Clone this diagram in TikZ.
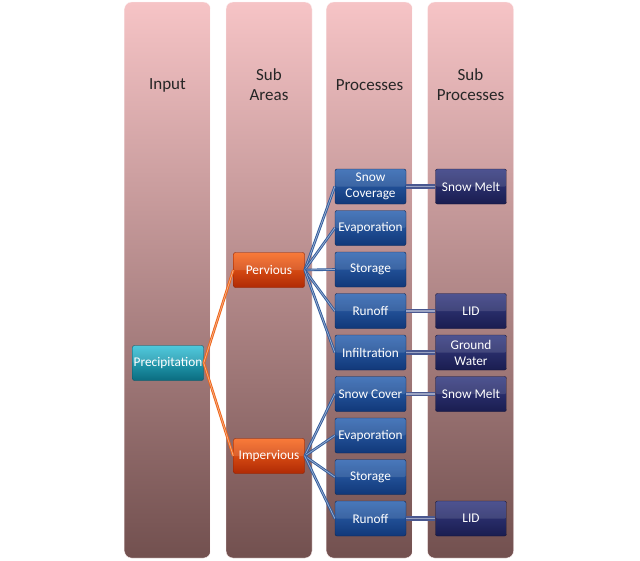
\documentclass[tikz,border=0pt]{standalone}
\usepackage{fontspec}
\setmainfont{Carlito}
\usepackage{tikz}
\usetikzlibrary{positioning}

\definecolor{coltop}{HTML}{F6C4C6}
\definecolor{colbot}{HTML}{72504F}
\definecolor{inptop}{HTML}{36C2D8}
\definecolor{inpbot}{HTML}{0B6C80}
\definecolor{areatop}{HTML}{F8681E}
\definecolor{areabot}{HTML}{B02A05}
\definecolor{proctop}{HTML}{3066B2}
\definecolor{procbot}{HTML}{113879}
\definecolor{subtop}{HTML}{363C82}
\definecolor{subbot}{HTML}{1A1D50}
\definecolor{linkorange}{HTML}{EE6418}
\definecolor{linkblue}{HTML}{2F5A9C}
\definecolor{linkgrey}{HTML}{4A5890}

\begin{document}
\begin{tikzpicture}[x=1pt, y=-1pt,
  column/.style={rounded corners=7pt, draw=white!80!coltop, top color=coltop, bottom color=colbot,
                 minimum width=86pt, minimum height=556pt, inner sep=0pt},
  head/.style={font=\fontsize{17}{20}\selectfont, text=black!85, align=center},
  box/.style={rounded corners=2pt, minimum width=71pt, minimum height=35pt, inner sep=1pt,
              align=center, text=white, font=\fontsize{13.3}{16}\selectfont,
              path picture={\fill[white, opacity=0.12] (path picture bounding box.north west)
                            rectangle (path picture bounding box.east);}},
  inbox/.style={box, draw=inpbot!80!black, top color=inptop, bottom color=inpbot},
  areabox/.style={box, draw=areabot!80!black, top color=areatop, bottom color=areabot},
  procbox/.style={box, draw=procbot!70!black, top color=proctop, bottom color=procbot},
  subbox/.style={box, draw=subbot!70!black, top color=subtop, bottom color=subbot},
  orangelink/.style={draw=linkorange, double=linkorange!55!white, double distance=0.8pt, line width=0.9pt},
  bluelink/.style={draw=linkblue, double=linkblue!50!white, double distance=0.8pt, line width=0.9pt},
  greylink/.style={draw=linkgrey, double=linkgrey!55!white, double distance=1.2pt, line width=1.5pt}]

\useasboundingbox (0,0) rectangle (640,560);

% columns
\node[column] (cin)   at (167.5,280) {};
\node[column] (carea) at (269,280)   {};
\node[column] (cproc) at (369.5,280) {};
\node[column] (csub)  at (470.5,280) {};

\node[head] (hin)   at (167.5,85) {Input};
\node[head] (harea) at (269,85)   {Sub\\Areas};
\node[head] (hproc) at (369.5,85) {Processes};
\node[head] (hsub)  at (470.5,85) {Sub\\Processes};

% input and sub areas
\node[inbox] (prec) at (168,363) {Precipitation};
\node[areabox] (perv) at (269,270) {Pervious};
\node[areabox] (imperv) at (269,456) {Impervious};

% processes
\node[procbox] (p1) at (370.5,186.5) {Snow\\Coverage};
\node[procbox] (p2) at (370.5,228)   {Evaporation};
\node[procbox] (p3) at (370.5,269.5) {Storage};
\node[procbox] (p4) at (370.5,311)   {Runoff};
\node[procbox] (p5) at (370.5,352.5) {Infiltration};
\node[procbox] (i1) at (370.5,394)   {Snow Cover};
\node[procbox] (i2) at (370.5,435.5) {Evaporation};
\node[procbox] (i3) at (370.5,477)   {Storage};
\node[procbox] (i4) at (370.5,518.5) {Runoff};

% sub processes
\node[subbox] (s1) at (471,186.5) {Snow Melt};
\node[subbox] (s2) at (471,311)   {LID};
\node[subbox] (s3) at (471,352.5) {Ground\\Water};
\node[subbox] (s4) at (471,394)   {Snow Melt};
\node[subbox] (s5) at (471,518.5) {LID};

\draw[orangelink] (prec.east) -- (perv.west);
\draw[orangelink] (prec.east) -- (imperv.west);

\draw[bluelink] (perv.east) -- (p1.west);
\draw[bluelink] (perv.east) -- (p2.west);
\draw[bluelink] (perv.east) -- (p3.west);
\draw[bluelink] (perv.east) -- (p4.west);
\draw[bluelink] (perv.east) -- (p5.west);
\draw[bluelink] (imperv.east) -- (i1.west);
\draw[bluelink] (imperv.east) -- (i2.west);
\draw[bluelink] (imperv.east) -- (i3.west);
\draw[bluelink] (imperv.east) -- (i4.west);

\draw[greylink] (p1.east) -- (s1.west);
\draw[greylink] (p4.east) -- (s2.west);
\draw[greylink] (p5.east) -- (s3.west);
\draw[greylink] (i1.east) -- (s4.west);
\draw[greylink] (i4.east) -- (s5.west);
\end{tikzpicture}
\end{document}
